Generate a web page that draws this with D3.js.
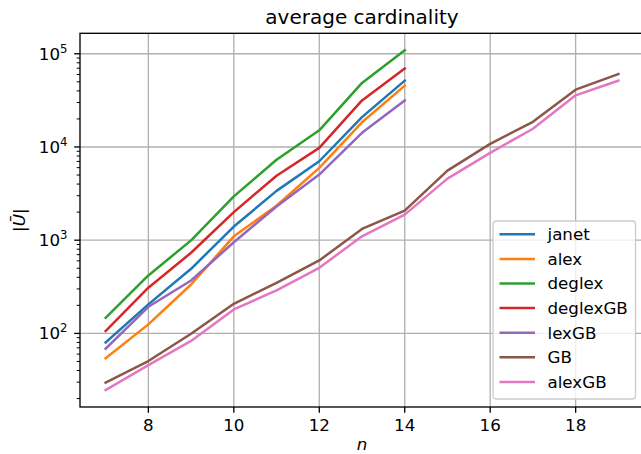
<!DOCTYPE html>
<html>
<head>
<meta charset="utf-8">
<script src="https://cdnjs.cloudflare.com/ajax/libs/d3/7.8.5/d3.min.js"></script>
<style>
  body { margin: 0; background: #fff; overflow: hidden; }
  svg { display: block; font-family: "DejaVu Sans", sans-serif; }
</style>
</head>
<body>
<div id="chart"></div>
<script>
// data
var nShort = [7, 8, 9, 10, 11, 12, 13, 14];
var nLong = [7, 8, 9, 10, 11, 12, 13, 14, 15, 16, 17, 18, 19];

var janet    = [80, 205, 493, 1400, 3380, 7030, 20900, 51500];
var alex     = [54, 125, 335, 1100, 2340, 5970, 18400, 45500];
var deglex   = [147, 419, 995, 2950, 7300, 15100, 48700, 109000];
var deglexGB = [106, 309, 733, 2000, 4920, 9780, 31600, 69700];
var lexGB    = [68.5, 193, 370, 950, 2300, 5060, 14200, 31600];
var GB       = [29.6, 50.5, 99, 208, 349, 606, 1320, 2080, 5580, 10800, 18600, 41200, 60700];
var alexGB   = [24.7, 45.7, 83, 181, 289, 506, 1100, 1880, 4580, 8650, 15700, 35800, 51500];

var seriesNames = ["janet", "alex", "deglex", "deglexGB", "lexGB", "GB", "alexGB"];
var seriesValues = [janet, alex, deglex, deglexGB, lexGB, GB, alexGB];
var seriesX = [nShort, nShort, nShort, nShort, nShort, nLong, nLong];
var colors = ["#1f77b4", "#ff7f0e", "#2ca02c", "#d62728", "#9467bd", "#8c564b", "#e377c2"];

var xTicks = [8, 10, 12, 14, 16, 18];
var yTicks = [100, 1000, 10000, 100000];

//setting svg dimension
var svgWidth = 641;
var svgHeight = 454;

// right edge of the axes is past the picture edge (cropped figure)
var margin = { top: 33.3, right: -3, bottom: 47, left: 80 };
var chartWidth = svgWidth - margin.left - margin.right;
var chartHeight = svgHeight - margin.top - margin.bottom;

var tickFont = "16.7px";

var svg = d3.select("#chart")
  .append("svg")
  .attr("width", svgWidth)
  .attr("height", svgHeight);

// x scale with matplotlib style 5% margins
var xMin = d3.min(nLong), xMax = d3.max(nLong);
var xPad = (xMax - xMin) * 0.05;
var xScale = d3.scaleLinear()
  .domain([xMin - xPad, xMax + xPad])
  .range([0, chartWidth]);

// log y scale, margins in log space
var allVals = d3.merge(seriesValues);
var lMin = Math.log10(d3.min(allVals)), lMax = Math.log10(d3.max(allVals));
var lPad = (lMax - lMin) * 0.05;
var yScale = d3.scaleLog()
  .domain([Math.pow(10, lMin - lPad), Math.pow(10, lMax + lPad)])
  .range([chartHeight, 0]);

var chartGroup = svg.append("g")
  .attr("transform", `translate(${margin.left}, ${margin.top})`);

// grid lines
chartGroup.append("g")
  .selectAll("line")
  .data(xTicks)
  .enter()
  .append("line")
  .attr("x1", d => xScale(d))
  .attr("x2", d => xScale(d))
  .attr("y1", 0)
  .attr("y2", chartHeight)
  .attr("stroke", "#b0b0b0")
  .attr("stroke-width", 1.33);

chartGroup.append("g")
  .selectAll("line")
  .data(yTicks)
  .enter()
  .append("line")
  .attr("x1", 0)
  .attr("x2", chartWidth)
  .attr("y1", d => yScale(d))
  .attr("y2", d => yScale(d))
  .attr("stroke", "#b0b0b0")
  .attr("stroke-width", 1.33);

// lines
var line = d3.line()
  .x(d => xScale(d[0]))
  .y(d => yScale(d[1]));

seriesValues.forEach(function(vals, i) {
  var pts = vals.map((v, j) => [seriesX[i][j], v]);
  chartGroup.append("path")
    .datum(pts)
    .attr("d", line)
    .attr("fill", "none")
    .attr("stroke", colors[i])
    .attr("stroke-width", 2.5)
    .attr("stroke-linejoin", "round")
    .attr("stroke-linecap", "square");
});

// spines
chartGroup.append("rect")
  .attr("x", 0)
  .attr("y", 0)
  .attr("width", chartWidth)
  .attr("height", chartHeight)
  .attr("fill", "none")
  .attr("stroke", "#000")
  .attr("stroke-width", 1.33);

// x axis
var xAxis = chartGroup.append("g")
  .attr("transform", `translate(0, ${chartHeight})`);
xAxis.selectAll("line")
  .data(xTicks)
  .enter()
  .append("line")
  .attr("x1", d => xScale(d))
  .attr("x2", d => xScale(d))
  .attr("y1", 0)
  .attr("y2", 5.8)
  .attr("stroke", "#000")
  .attr("stroke-width", 1.33);
xAxis.selectAll("text")
  .data(xTicks)
  .enter()
  .append("text")
  .attr("x", d => xScale(d))
  .attr("y", 24)
  .attr("text-anchor", "middle")
  .style("font-size", tickFont)
  .attr("fill", "#000")
  .text(d => d);

// y axis major + minor ticks
var yDom = yScale.domain();
var minorTicks = [];
for (var e = Math.floor(Math.log10(yDom[0])); e <= Math.ceil(Math.log10(yDom[1])); e++) {
  for (var m = 2; m <= 9; m++) {
    var v = m * Math.pow(10, e);
    if (v >= yDom[0] && v <= yDom[1]) minorTicks.push(v);
  }
}
var yAxis = chartGroup.append("g");
yAxis.selectAll(".minor")
  .data(minorTicks)
  .enter()
  .append("line")
  .attr("class", "minor")
  .attr("x1", 0)
  .attr("x2", -3.3)
  .attr("y1", d => yScale(d))
  .attr("y2", d => yScale(d))
  .attr("stroke", "#000")
  .attr("stroke-width", 1);
yAxis.selectAll(".major")
  .data(yTicks)
  .enter()
  .append("line")
  .attr("class", "major")
  .attr("x1", 0)
  .attr("x2", -5.8)
  .attr("y1", d => yScale(d))
  .attr("y2", d => yScale(d))
  .attr("stroke", "#000")
  .attr("stroke-width", 1.33);
var yLabels = yAxis.selectAll(".ylab")
  .data(yTicks)
  .enter()
  .append("text")
  .attr("class", "ylab")
  .attr("x", -12.5)
  .attr("y", d => yScale(d) + 6)
  .attr("text-anchor", "end")
  .style("font-size", tickFont)
  .attr("fill", "#000");
yLabels.append("tspan").text("10");
yLabels.append("tspan")
  .attr("dy", -7)
  .style("font-size", "11.7px")
  .text(d => Math.round(Math.log10(d)));

// title
svg.append("text")
  .attr("x", margin.left + (644 - margin.left) / 2)
  .attr("y", 24)
  .attr("text-anchor", "middle")
  .style("font-size", "20px")
  .attr("fill", "#000")
  .text("average cardinality");

// axis labels
svg.append("text")
  .attr("x", margin.left + (644 - margin.left) / 2)
  .attr("y", 450)
  .attr("text-anchor", "middle")
  .style("font-size", tickFont)
  .style("font-style", "italic")
  .attr("fill", "#000")
  .text("n");

svg.append("text")
  .attr("transform", `translate(24.5, ${margin.top + chartHeight / 2}) rotate(-90)`)
  .attr("text-anchor", "middle")
  .style("font-size", tickFont)
  .attr("fill", "#000")
  .html('|<tspan font-style="italic">Ū</tspan>|');

// legend
var legend = svg.append("g")
  .attr("transform", "translate(493, 221)");
legend.append("rect")
  .attr("width", 142.5)
  .attr("height", 178)
  .attr("rx", 3)
  .attr("fill", "#fff")
  .attr("fill-opacity", 0.8)
  .attr("stroke", "#cccccc")
  .attr("stroke-width", 1.33);
var items = legend.selectAll("g.item")
  .data(seriesNames)
  .enter()
  .append("g")
  .attr("class", "item")
  .attr("transform", (d, i) => `translate(0, ${13.3 + i * 24.6})`);
items.append("line")
  .attr("x1", 6.5)
  .attr("x2", 42)
  .attr("stroke", (d, i) => colors[i])
  .attr("stroke-width", 2.5);
items.append("text")
  .attr("x", 54.5)
  .attr("y", 5.8)
  .style("font-size", tickFont)
  .attr("fill", "#000")
  .text(d => d);
</script>
</body>
</html>
